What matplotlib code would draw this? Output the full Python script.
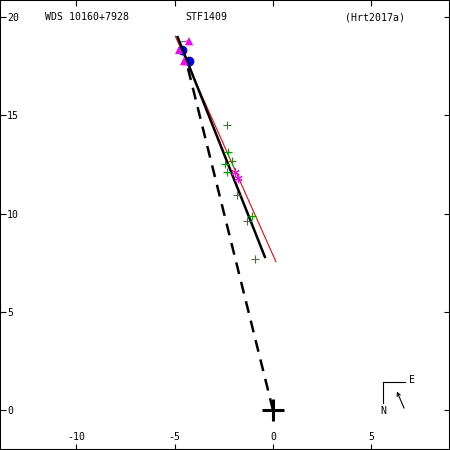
import matplotlib
matplotlib.use("Agg")
import matplotlib.pyplot as plt

plt.rcParams['font.family'] = ['DejaVu Sans Mono']
plt.rcParams['axes.unicode_minus'] = False

# ---- data (arcsec offsets) ----
orbit_x = [-4.85, -0.41]
orbit_y = [18.98, 7.79]
old_orbit_x = [-4.97, 0.15]
old_orbit_y = [19.03, 7.55]
node_x = [0.0, -4.43]
node_y = [0.0, 17.81]

micro_x = [-2.33, -2.27, -2.10, -2.44, -2.36, -1.85, -1.08, -1.34, -0.92]
micro_y = [14.50, 13.13, 12.69, 12.50, 12.13, 10.94, 9.87, 9.62, 7.68]

star_x = [-1.93, -1.80]
star_y = [12.13, 11.82]

tri_x = [-4.27, -4.78, -4.51]
tri_y = [18.79, 18.34, 17.78]
tri_pred_x = [-4.80, -4.62, -4.27]
tri_pred_y = [18.72, 18.34, 17.75]

blue_x = [-4.62, -4.27]
blue_y = [18.34, 17.75]

xticks = [-10, -5, 0, 5]
yticks = [0, 5, 10, 15, 20]
xlim = (-13.89, 9.01)
ylim = (-2.04, 20.87)

title_left = "WDS 10160+7928"
title_mid = "STF1409"
title_right = "(Hrt2017a)"

fig = plt.figure(figsize=(4.5, 4.5), dpi=100)
ax = fig.add_axes([0, 0, 1, 1])
ax.set_xlim(*xlim)
ax.set_ylim(*ylim)

# residual lines for triangles
for tx, ty, px, py in zip(tri_x, tri_y, tri_pred_x, tri_pred_y):
    ax.plot([tx, px], [ty, py], color='#ff00ff', lw=0.8, zorder=3)

# old orbit (red)
ax.plot(old_orbit_x, old_orbit_y, color='red', lw=0.8, zorder=2)
# line of apsides (dashed)
ln, = ax.plot(node_x, node_y, color='black', lw=1.8, zorder=2)
ln.set_dashes((4.8, 3.2))
# new orbit
ax.plot(orbit_x, orbit_y, color='black', lw=1.8, zorder=4)

ax.plot(micro_x, micro_y, ls='none', marker='+', ms=5.5, mew=0.8,
        color='#00a000', zorder=5)
ax.plot(star_x, star_y, ls='none', marker=(6, 2, 0), ms=6, mew=0.8,
        color='#ff00ff', zorder=5)
ax.plot(blue_x, blue_y, ls='none', marker='o', ms=6, color='#0000ff',
        zorder=3)
ax.plot(tri_x, tri_y, ls='none', marker='^', ms=6, color='#ff00ff',
        mew=0, zorder=5)

# primary
ax.plot([0], [0], marker='+', ms=16, mew=2.2, color='black', zorder=6)

# ticks
ax.set_xticks(xticks)
ax.set_yticks(yticks)
ax.set_xticklabels([str(v) for v in xticks])
ax.set_yticklabels([str(v) for v in yticks])
ax.tick_params(axis='both', direction='in', length=4.5, width=0.8,
               labelsize=7.1, top=True, right=True)
ax.tick_params(axis='y', pad=-5)
ax.tick_params(axis='x', pad=-7.2)
for lab in ax.get_yticklabels():
    lab.set_horizontalalignment('left')
for lab in ax.get_xticklabels():
    lab.set_verticalalignment('baseline')
for s in ax.spines.values():
    s.set_linewidth(1.5)

# titles
ax.text(0.1, 0.962, title_left, transform=ax.transAxes, fontsize=7.1,
        ha='left', va='center')
ax.text(0.411, 0.962, title_mid, transform=ax.transAxes, fontsize=7.1,
        ha='left', va='center')
ax.text(0.767, 0.962, title_right, transform=ax.transAxes, fontsize=7.1,
        ha='left', va='center')

# compass
ax.plot([0.851, 0.9], [0.152, 0.152], transform=ax.transAxes, color='black', lw=0.8)
ax.plot([0.851, 0.851], [0.152, 0.104], transform=ax.transAxes, color='black', lw=0.8)
ax.text(0.916, 0.156, "E", transform=ax.transAxes, fontsize=7.1, ha='center', va='center')
ax.text(0.851, 0.087, "N", transform=ax.transAxes, fontsize=7.1, ha='center', va='center')
ax.annotate("", xy=(0.882, 0.130), xytext=(0.898, 0.093), xycoords='axes fraction',
            textcoords='axes fraction',
            arrowprops=dict(arrowstyle='->', lw=0.8, color='black',
                            shrinkA=0, shrinkB=0, mutation_scale=6))

fig.savefig("out.png", dpi=100)
